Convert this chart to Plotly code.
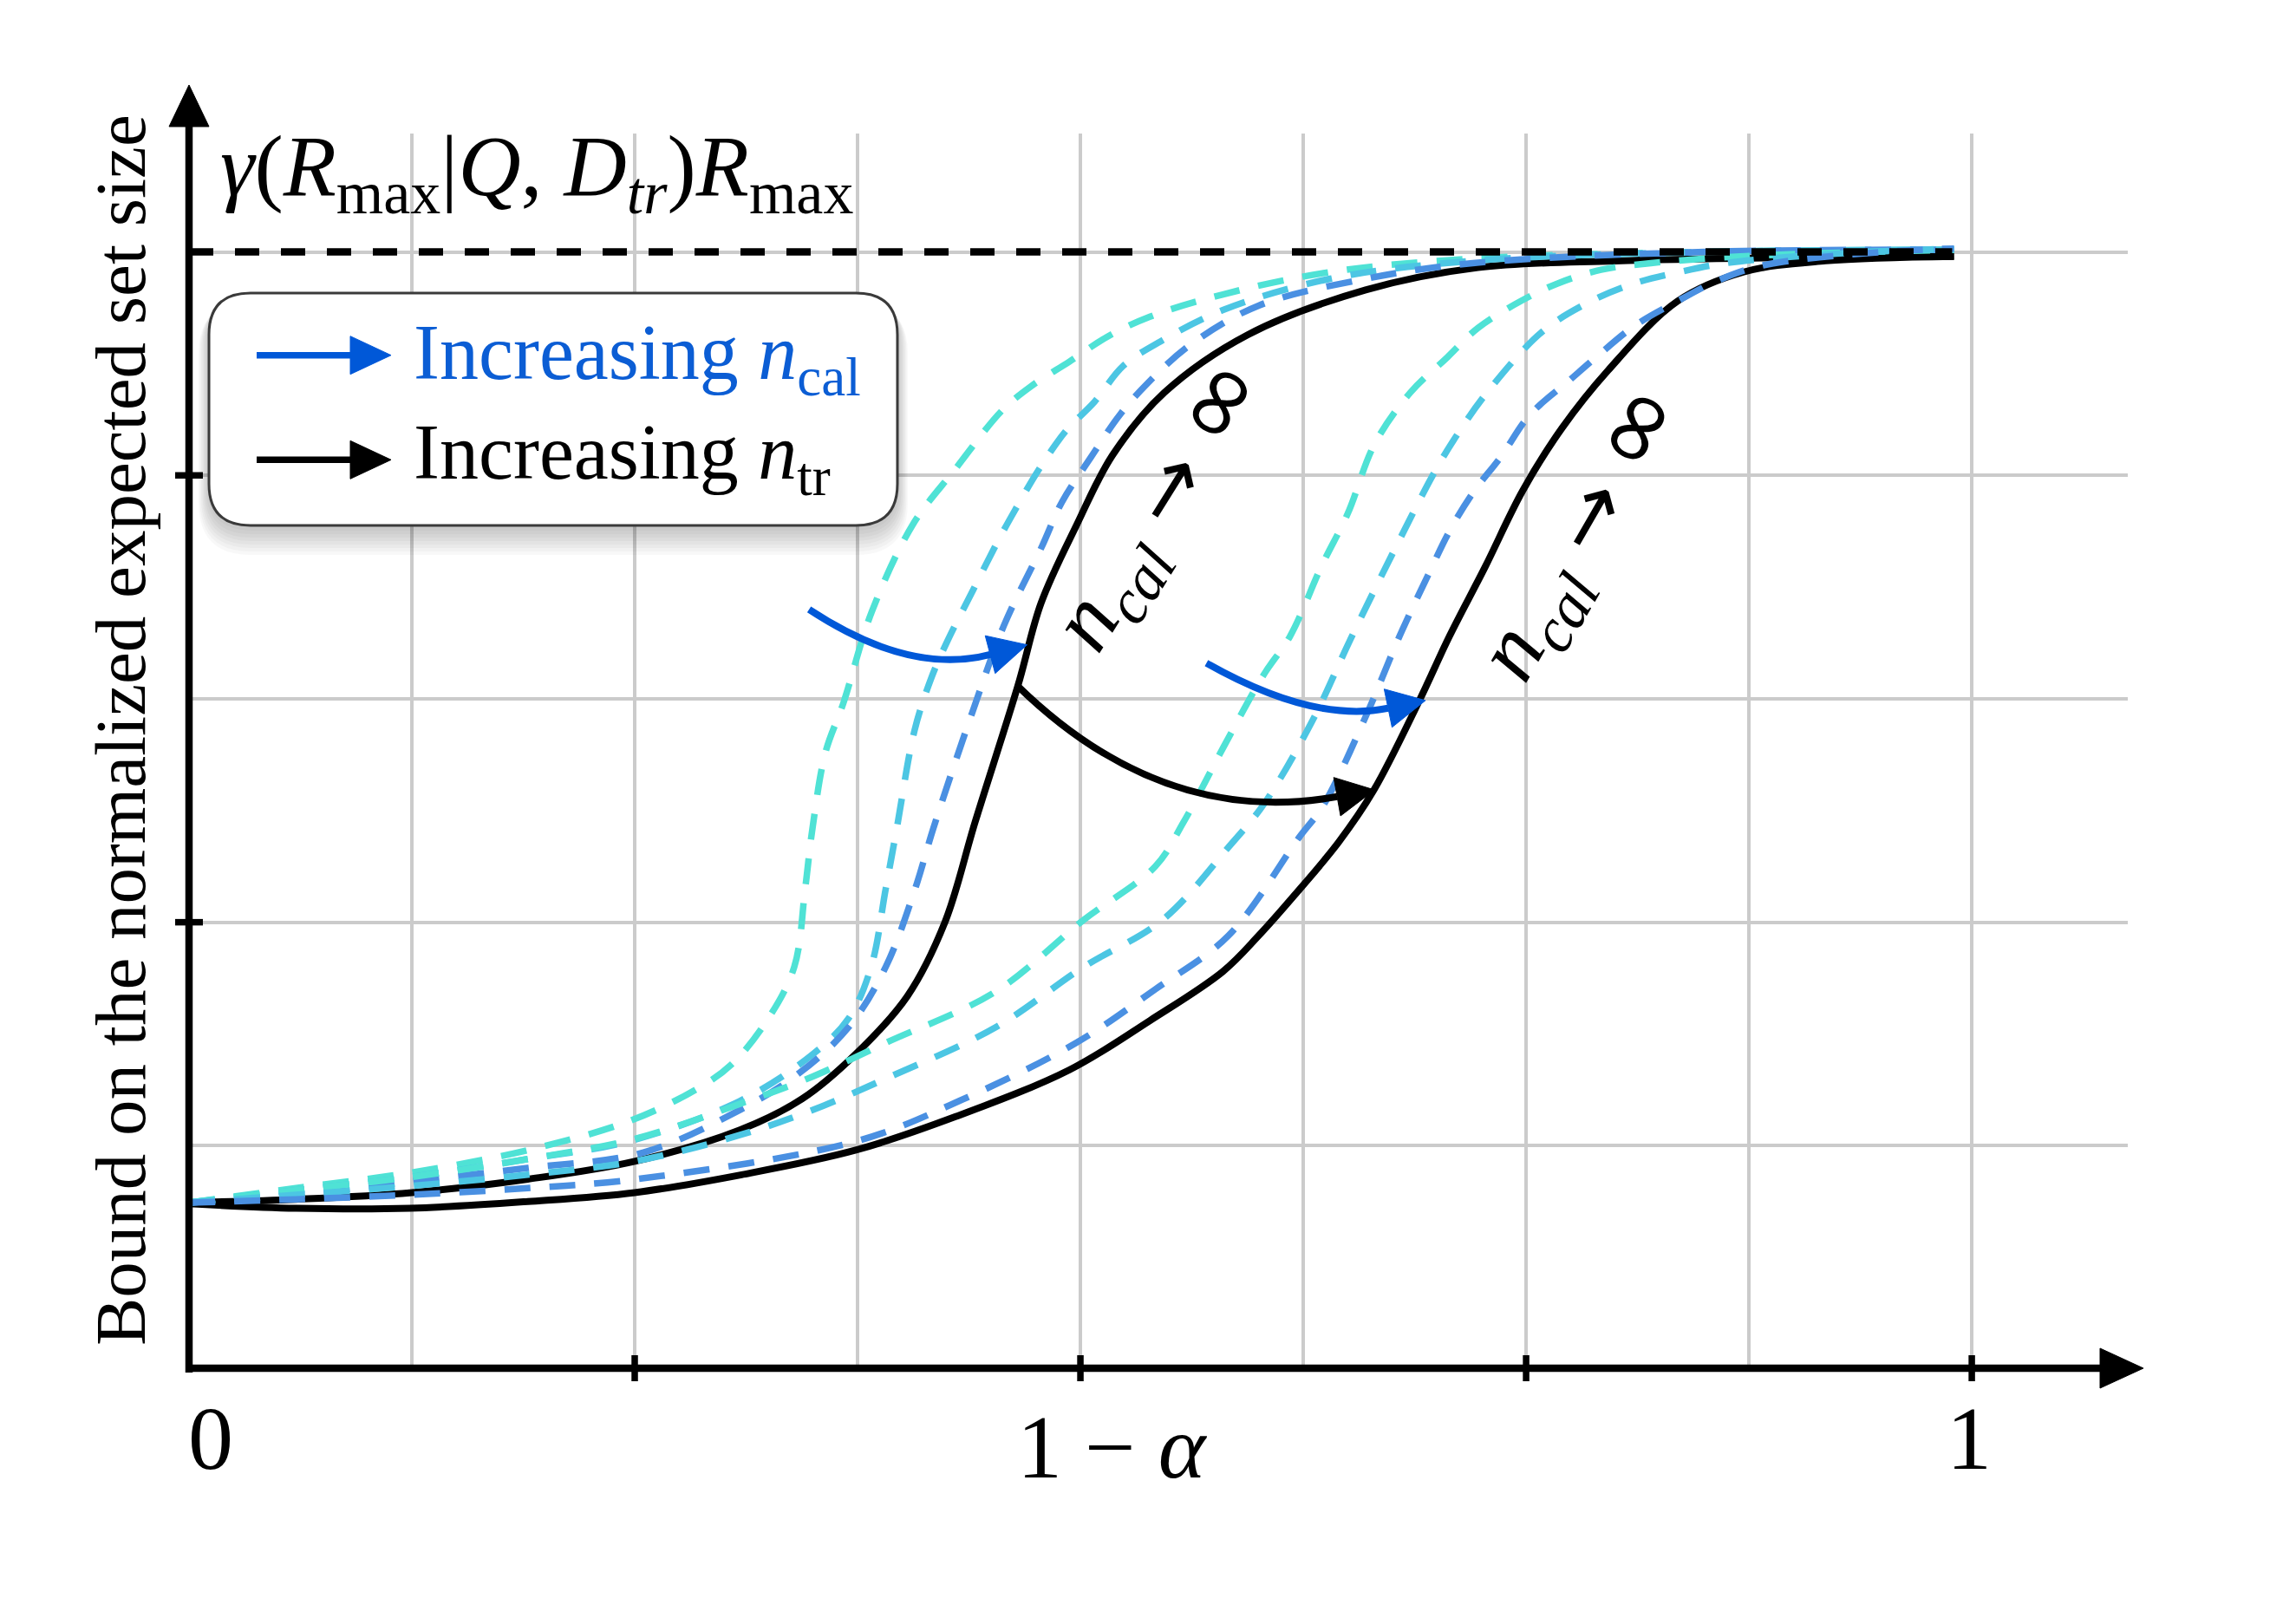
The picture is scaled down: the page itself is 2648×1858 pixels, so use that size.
import plotly.graph_objects as go

# ---- curves: x = coverage level, y = bound ----
# left family (smaller n_tr)
lb_x = [0.0, 0.06, 0.125, 0.19, 0.25, 0.309, 0.344, 0.374, 0.403, 0.424, 0.441, 0.465, 0.478, 0.498, 0.518, 0.547, 0.594, 0.66, 0.723, 0.80, 0.90, 0.99]
lb_y = [0.745, 0.76, 0.79, 0.85, 0.93, 1.07, 1.21, 1.41, 1.67, 2.0, 2.45, 3.06, 3.43, 3.78, 4.09, 4.37, 4.63, 4.83, 4.93, 4.96, 4.975, 4.98]

lt_x = [0.0, 0.06, 0.125, 0.19, 0.247, 0.284, 0.3045, 0.325, 0.3395, 0.3456, 0.3497, 0.357, 0.367, 0.383, 0.406, 0.43, 0.456, 0.4725, 0.494, 0.515, 0.539, 0.58, 0.64, 0.72, 0.85, 0.99]
lt_y = [0.745, 0.81, 0.88, 0.98, 1.11, 1.25, 1.365, 1.57, 1.80, 2.15, 2.42, 2.76, 2.98, 3.39, 3.78, 4.03, 4.29, 4.40, 4.51, 4.62, 4.71, 4.81, 4.91, 4.97, 5.0, 5.01]

ls_x = [0.0, 0.06, 0.125, 0.19, 0.247, 0.309, 0.35, 0.370, 0.3826, 0.3908, 0.397, 0.407, 0.4167, 0.4255, 0.44, 0.454, 0.463, 0.477, 0.492, 0.508, 0.524, 0.545, 0.58, 0.64, 0.72, 0.85, 0.99]
ls_y = [0.745, 0.80, 0.86, 0.94, 1.02, 1.20, 1.41, 1.57, 1.80, 2.15, 2.42, 2.86, 3.10, 3.26, 3.49, 3.71, 3.84, 4.03, 4.20, 4.33, 4.49, 4.60, 4.74, 4.88, 4.96, 5.0, 5.01]

lbl_x = [0.0, 0.06, 0.125, 0.19, 0.255, 0.309, 0.3415, 0.370, 0.3908, 0.4073, 0.4175, 0.4394, 0.4572, 0.4783, 0.4896, 0.5058, 0.522, 0.538, 0.5626, 0.60, 0.66, 0.72, 0.85, 0.99]
lbl_y = [0.745, 0.78, 0.84, 0.90, 0.97, 1.16, 1.32, 1.53, 1.80, 2.15, 2.42, 2.94, 3.33, 3.68, 3.88, 4.08, 4.27, 4.415, 4.59, 4.76, 4.88, 4.95, 5.0, 5.01]

# right family (larger n_tr)
rb_x = [0.0, 0.06, 0.124, 0.19, 0.25, 0.31, 0.374, 0.43, 0.494, 0.539, 0.58, 0.60, 0.62, 0.645, 0.6645, 0.690, 0.707, 0.727, 0.748, 0.770, 0.796, 0.835, 0.872, 0.918, 0.99]
rb_y = [0.74, 0.72, 0.72, 0.75, 0.79, 0.87, 0.98, 1.13, 1.34, 1.56, 1.78, 1.94, 2.12, 2.36, 2.59, 2.99, 3.28, 3.59, 3.93, 4.21, 4.47, 4.78, 4.91, 4.96, 4.98]

rt_x = [0.0, 0.06, 0.125, 0.19, 0.25, 0.31, 0.35, 0.3908, 0.4525, 0.5018, 0.542, 0.558, 0.580, 0.603, 0.6176, 0.6356, 0.650, 0.665, 0.685, 0.706, 0.723, 0.747, 0.768, 0.792, 0.82, 0.87, 0.99]
rt_y = [0.745, 0.80, 0.86, 0.94, 1.03, 1.19, 1.31, 1.46, 1.69, 2.01, 2.25, 2.45, 2.78, 3.11, 3.28, 3.60, 3.83, 4.14, 4.37, 4.53, 4.66, 4.78, 4.86, 4.92, 4.95, 4.98, 5.01]

rs_x = [0.0, 0.06, 0.125, 0.19, 0.25, 0.31, 0.35, 0.3908, 0.4525, 0.5018, 0.546, 0.5835, 0.603, 0.630, 0.6517, 0.677, 0.699, 0.712, 0.728, 0.7586, 0.784, 0.811, 0.836, 0.862, 0.92, 0.99]
rs_y = [0.745, 0.78, 0.82, 0.87, 0.93, 1.05, 1.16, 1.30, 1.53, 1.80, 2.01, 2.34, 2.53, 2.90, 3.27, 3.68, 4.02, 4.19, 4.37, 4.64, 4.77, 4.86, 4.91, 4.95, 4.99, 5.015]

rbl_x = [0.0, 0.06, 0.124, 0.19, 0.251, 0.3744, 0.432, 0.4976, 0.542, 0.583, 0.6227, 0.636, 0.66, 0.679, 0.696, 0.707, 0.720, 0.736, 0.752, 0.775, 0.788, 0.811, 0.835, 0.857, 0.883, 0.95, 0.99]
rbl_y = [0.745, 0.76, 0.78, 0.81, 0.85, 1.02, 1.20, 1.46, 1.70, 1.94, 2.38, 2.52, 2.92, 3.28, 3.57, 3.75, 3.92, 4.085, 4.27, 4.43, 4.52, 4.67, 4.78, 4.87, 4.94, 5.0, 5.015]

# asymptote and its span
cap_x = [0.0, 0.989]
cap_y = [5.0, 5.0]

# axis ticks and labels
x_ticks = [0.25, 0.5, 0.75, 1.0]
y_ticks = [2, 4]
x_labels = ["0", "1 − <i>α</i>", "1"]
x_label_pos = [0.012, 0.518, 0.9985]

# curved arrows: start, control, end of stem (data units)
arrows = [
    ((0.3478, 3.400), (0.4044, 3.103), (0.4494, 3.198), "#0058d8"),
    ((0.5707, 3.160), (0.6307, 2.889), (0.6726, 2.958), "#0058d8"),
    ((0.4649, 3.057), (0.5465, 2.423), (0.6440, 2.562), "black"),
]

TURQ = "#4fe2d5"
SKY = "#4cc6e3"
BLUE = "#4a90e2"
TXT_BLUE = "#0b5dd4"
FONT = "Liberation Serif"

W, H = 2648, 1858
L, R, T, B = 210, 202, 146, 287
X_MAX, Y_MAX = 1.0875, 5.53
PW, PH = W - L - R, H - T - B
SX, SY = PW / X_MAX, PH / Y_MAX   # pixels per data unit


def px(x):
    return (x - L) / PW


def py(y):
    return (H - B - y) / PH


def rrect(x0, y0, x1, y1, r):
    pts = [
        ("M", (x0 + r, y0)), ("L", (x1 - r, y0)), ("Q", (x1, y0), (x1, y0 + r)),
        ("L", (x1, y1 - r)), ("Q", (x1, y1), (x1 - r, y1)), ("L", (x0 + r, y1)),
        ("Q", (x0, y1), (x0, y1 - r)), ("L", (x0, y0 + r)), ("Q", (x0, y0), (x0 + r, y0)),
    ]
    s = ""
    for cmd, *ps in pts:
        s += cmd + " " + " ".join(f"{px(a):.5f},{py(b):.5f}" for a, b in ps) + " "
    return s + "Z"


fig = go.Figure()

dash = "30px,22px"
for xs, ys in [(lb_x, lb_y), (rb_x, rb_y)]:
    fig.add_trace(go.Scatter(x=xs, y=ys, mode="lines",
                             line=dict(color="black", width=8, shape="spline", smoothing=1.0)))
for xs, ys, c in [(lt_x, lt_y, TURQ), (ls_x, ls_y, SKY), (lbl_x, lbl_y, BLUE),
                  (rt_x, rt_y, TURQ), (rs_x, rs_y, SKY), (rbl_x, rbl_y, BLUE)]:
    fig.add_trace(go.Scatter(x=xs, y=ys, mode="lines",
                             line=dict(color=c, width=7.5, dash=dash, shape="spline", smoothing=1.0)))
fig.add_trace(go.Scatter(x=cap_x, y=cap_y, mode="lines",
                         line=dict(color="black", width=8.5, dash="28px,25px")))

shapes = []

# curved arrows with filled heads
HEAD_L, HEAD_W = 44, 45
for (x0, y0), (cx, cy), (x1, y1), col in arrows:
    shapes.append(dict(type="path", xref="x", yref="y",
                       path=f"M {x0},{y0} Q {cx},{cy} {x1},{y1}",
                       line=dict(color=col, width=8)))
    dx, dy = (x1 - cx) * SX, (y1 - cy) * SY
    n = (dx * dx + dy * dy) ** 0.5
    ux, uy = dx / n, dy / n
    tip = (x1 + ux * HEAD_L / SX, y1 + uy * HEAD_L / SY)
    b1 = (x1 - uy * HEAD_W / 2 / SX, y1 + ux * HEAD_W / 2 / SY)
    b2 = (x1 + uy * HEAD_W / 2 / SX, y1 - ux * HEAD_W / 2 / SY)
    shapes.append(dict(type="path", xref="x", yref="y",
                       path=f"M {tip[0]},{tip[1]} L {b1[0]},{b1[1]} L {b2[0]},{b2[1]} Z",
                       fillcolor=col, line=dict(color=col, width=1)))

# axes with arrow tips
Y0 = H - B
shapes.append(dict(type="line", xref="paper", yref="paper", x0=px(210), y0=py(Y0 + 4), x1=px(210), y1=py(137),
                   line=dict(color="black", width=8.5)))
shapes.append(dict(type="line", xref="paper", yref="paper", x0=px(206), y0=py(Y0 - 1), x1=px(2418), y1=py(Y0 - 1),
                   line=dict(color="black", width=8.5)))
shapes.append(dict(type="path", xref="paper", yref="paper",
                   path=f"M {px(210)},{py(90)} L {px(187)},{py(138)} L {px(233)},{py(138)} Z",
                   fillcolor="black", line=dict(color="black", width=1)))
shapes.append(dict(type="path", xref="paper", yref="paper",
                   path=f"M {px(2464)},{py(Y0 - 1)} L {px(2414)},{py(Y0 - 24)} L {px(2414)},{py(Y0 + 22)} Z",
                   fillcolor="black", line=dict(color="black", width=1)))
for xt in x_ticks:
    xp = L + xt * SX
    shapes.append(dict(type="line", xref="paper", yref="paper", x0=px(xp), x1=px(xp),
                       y0=py(Y0 - 16), y1=py(Y0 + 14), line=dict(color="black", width=7.5)))
for yt in y_ticks:
    yp = Y0 - yt * SY
    shapes.append(dict(type="line", xref="paper", yref="paper", x0=px(194), x1=px(226),
                       y0=py(yp), y1=py(yp), line=dict(color="black", width=7.5)))

# legend box with soft shadow
for i in range(1, 9):
    g = 1.5 * i
    shapes.append(dict(type="path", xref="paper", yref="paper",
                       path=rrect(233 - g, 330 - g + 2 + 2.5 * i, 1027 + g, 598 + g + 2 + 2.5 * i, 48 + g),
                       fillcolor="rgba(0,0,0,0.028)", line=dict(width=0)))
shapes.append(dict(type="path", xref="paper", yref="paper", path=rrect(233, 330, 1027, 598, 48),
                   fillcolor="white", line=dict(color="#3a3a3a", width=3)))
for yl, col in [(401.7, "#0058d8"), (522.3, "black")]:
    shapes.append(dict(type="line", xref="paper", yref="paper", x0=px(288), x1=px(400),
                       y0=py(yl), y1=py(yl), line=dict(color=col, width=7.5)))
    shapes.append(dict(type="path", xref="paper", yref="paper",
                       path=f"M {px(443)},{py(yl)} L {px(396)},{py(yl - 22)} L {px(396)},{py(yl + 22)} Z",
                       fillcolor=col, line=dict(color=col, width=1)))

ann = []
ann.append(dict(text="Bound on the normalized expected set size", x=px(131), y=py(834),
                textangle=-90, font=dict(size=83, color="black", family=FONT)))
ann.append(dict(text="<i>γ</i>(<i>R</i><sub>max</sub>|<i>Q</i>, <i>D</i><sub><i>tr</i></sub>)<i>R</i><sub>max</sub>",
                x=px(244), y=py(190), xanchor="left", font=dict(size=100, color="black", family=FONT)))
ann.append(dict(text="Increasing <i>n</i><sub>cal</sub>", x=px(467), y=py(405), xanchor="left",
                font=dict(size=90, color=TXT_BLUE, family=FONT)))
ann.append(dict(text="Increasing <i>n</i><sub>tr</sub>", x=px(467), y=py(520), xanchor="left",
                font=dict(size=90, color="black", family=FONT)))
for lab, xv in zip(x_labels, x_label_pos):
    ann.append(dict(text=lab, x=px(L + xv * SX), y=py(1650 if lab != x_labels[1] else 1660),
                    font=dict(size=104, color="black", family=FONT)))
lim = ('<i>n<sub>cal</sub></i> <span style="font-family:DejaVu Sans;font-size:96px">→</span> '
       '<span style="font-family:DejaVu Sans;font-size:118px">∞</span>')
ann.append(dict(text=lim, x=px(1326), y=py(572), textangle=-58,
                font=dict(size=104, color="black", family=FONT)))
ann.append(dict(text=lim, x=px(1812), y=py(604), textangle=-60,
                font=dict(size=104, color="black", family=FONT)))
for a in ann:
    a.update(xref="paper", yref="paper", showarrow=False)
    a.setdefault("xanchor", "center")
    a.setdefault("yanchor", "middle")

fig.update_layout(
    width=W, height=H, margin=dict(l=L, r=R, t=T, b=B),
    paper_bgcolor="white", plot_bgcolor="white", showlegend=False,
    shapes=shapes, annotations=ann,
    xaxis=dict(range=[0, X_MAX], tick0=0, dtick=0.125, showgrid=True, gridcolor="#cbcbcb", gridwidth=3.5,
               zeroline=False, showline=False, showticklabels=False, ticks=""),
    yaxis=dict(range=[0, Y_MAX], tick0=0, dtick=1, showgrid=True, gridcolor="#cbcbcb", gridwidth=3.5,
               zeroline=False, showline=False, showticklabels=False, ticks=""),
)

fig.write_html("out.html")
